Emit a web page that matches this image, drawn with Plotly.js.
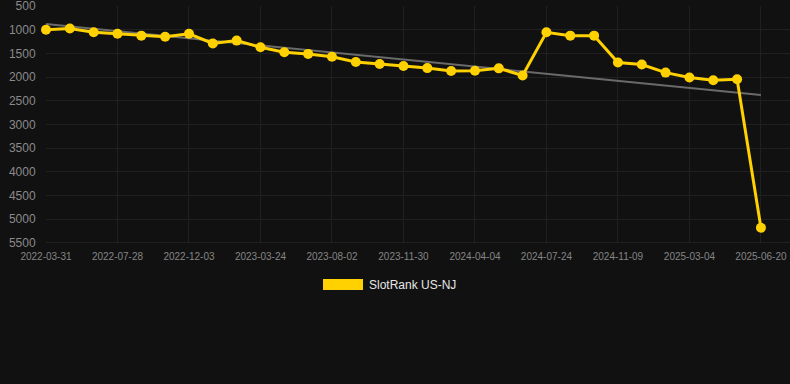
<!DOCTYPE html>
<html>
<head>
<meta charset="utf-8">
<script src="https://cdn.plot.ly/plotly-3.0.1.min.js"></script>
<style>html,body{margin:0;padding:0;background:#111111;}#chart{width:790px;height:384px;}</style>
</head>
<body>
<div id="chart"></div>
<script>
const dates = [
  "2022-03-31","2022-05-10","2022-06-19","2022-07-28","2022-09-09","2022-10-21",
  "2022-12-03","2023-01-09","2023-02-15","2023-03-24","2023-05-07","2023-06-19",
  "2023-08-02","2023-09-11","2023-10-21","2023-11-30","2024-01-11","2024-02-22",
  "2024-04-04","2024-05-11","2024-06-17","2024-07-24","2024-08-29","2024-10-04",
  "2024-11-09","2024-12-17","2025-01-25","2025-03-04","2025-04-09","2025-05-15",
  "2025-06-20"
];
const rankValues = [
  1000, 975, 1055, 1085, 1125, 1150,
  1085, 1290, 1230, 1370, 1475, 1510,
  1570, 1680, 1725, 1765, 1810, 1870,
  1865, 1815, 1965, 1055, 1125, 1125,
  1693, 1735, 1905, 2010, 2065, 2045,
  5180
];
const tickDates = ["2022-03-31","2022-07-28","2022-12-03","2023-03-24","2023-08-02","2023-11-30","2024-04-04","2024-07-24","2024-11-09","2025-03-04","2025-06-20"];
const yTicks = [500,1000,1500,2000,2500,3000,3500,4000,4500,5000,5500];
const trendDates = ["2022-03-31","2025-06-20"];
const trendValues = [880, 2378];
const seriesName = "SlotRank US-NJ";

const gold = "#FFD100";
const traces = [
  {x: trendDates, y: trendValues, type: "scatter", mode: "lines",
   line: {color: "#6a6a6a", width: 2}, hoverinfo: "skip", showlegend: false},
  {x: dates, y: rankValues, type: "scatter", mode: "lines+markers", name: seriesName,
   line: {color: gold, width: 3}, marker: {color: gold, size: 10},
   cliponaxis: false, showlegend: false}
];
const layout = {
  width: 790, height: 384,
  paper_bgcolor: "#111111", plot_bgcolor: "#111111",
  margin: {l: 46, r: 0, t: 6, b: 141},
  font: {family: "Liberation Sans, Arial, sans-serif", color: "#8a8a8a"},
  xaxis: {type: "category", categoryorder: "array", categoryarray: dates,
    range: [0, 31.22], tickvals: tickDates, ticktext: tickDates,
    showgrid: true, gridcolor: "#202020", gridwidth: 1, zeroline: false,
    showline: false, ticks: "outside", ticklen: 4, tickcolor: "rgba(0,0,0,0)",
    tickfont: {size: 10, color: "#858585"}, tickangle: 0},
  yaxis: {range: [5500.5, 499.5], tickvals: yTicks, ticktext: yTicks.map(String),
    showgrid: true, gridcolor: "#202020", gridwidth: 1, zeroline: false,
    showline: false, ticks: "outside", ticklen: 7, tickcolor: "rgba(0,0,0,0)",
    ticklabeloverflow: "allow",
    tickfont: {size: 12, color: "#8a8a8a"}},
  shapes: [
    {type: "line", xref: "paper", yref: "y", x0: 0, x1: 1, y0: 5500, y1: 5500,
     line: {color: "#2e2e2e", width: 1}},
    {type: "rect", xref: "paper", yref: "paper",
     x0: (323-46)/744, x1: (363-46)/744, y0: -(279-243)/237, y1: -(290-243)/237,
     fillcolor: gold, line: {width: 0}}
  ],
  annotations: [
    {xref: "paper", yref: "paper", x: (367-46)/744, y: -(284.5-243)/237,
     xanchor: "left", yanchor: "middle", text: seriesName, showarrow: false,
     font: {size: 12, color: "#e6e6e6"}}
  ],
  showlegend: false
};
Plotly.newPlot("chart", traces, layout, {displayModeBar: false, staticPlot: true});
</script>
</body>
</html>
